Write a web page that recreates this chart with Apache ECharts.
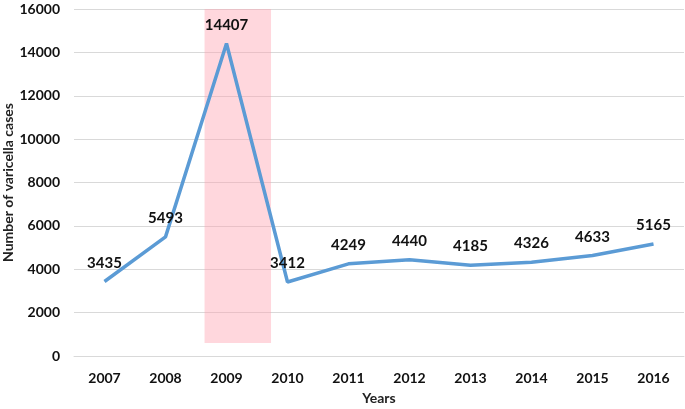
<!DOCTYPE html>
<html><head><meta charset="utf-8">
<script src="https://cdn.jsdelivr.net/npm/echarts@6/dist/echarts.min.js"></script>
<style>html,body{margin:0;padding:0;background:#fff}#c{width:685px;height:409px}</style>
</head><body><div id="c"></div>
<script>
var years = ['2007','2008','2009','2010','2011','2012','2013','2014','2015','2016'];
var cases = [3435, 5493, 14407, 3412, 4249, 4440, 4185, 4326, 4633, 5165];
var highlightX = [1.64, 2.73];
var highlightY = [600, 16000];
var font = 'Lato';
var chart = echarts.init(document.getElementById('c'));
chart.setOption({
  animation: false,
  grid: {left: 74, right: 1, top: 9, bottom: 53, containLabel: false, outerBoundsMode: 'none'},
  xAxis: [{
    type: 'category', data: years, boundaryGap: true,
    name: 'Years', nameLocation: 'middle', nameGap: 35, nameMoveOverlap: false,
    nameTextStyle: {fontFamily: font, fontWeight: 'bold', fontSize: 14, color: '#222'},
    axisLine: {lineStyle: {color: '#d9d9d9', width: 1}},
    axisTick: {show: false},
    axisLabel: {fontFamily: font, fontWeight: 'bold', fontSize: 14, color: '#111', margin: 15}
  }, {
    type: 'value', min: -0.5, max: 9.5, show: false
  }],
  yAxis: {
    type: 'value', min: 0, max: 16000, interval: 2000,
    name: 'Number of varicella cases', nameLocation: 'middle', nameGap: 59, nameMoveOverlap: false,
    nameTextStyle: {fontFamily: font, fontWeight: 'bold', fontSize: 14, color: '#222'},
    axisLine: {show: false}, axisTick: {show: false},
    splitLine: {lineStyle: {color: '#d9d9d9', width: 1}},
    axisLabel: {fontFamily: font, fontWeight: 'bold', fontSize: 14, color: '#111', margin: 14,
      formatter: function (v) { return String(v); }}
  },
  series: [{
    type: 'line', data: cases, symbol: 'circle', symbolSize: 0.5, showSymbol: true, z: 2,
    itemStyle: {color: '#5b9bd5'},
    lineStyle: {color: '#5b9bd5', width: 3.5},
    label: {show: true, position: 'top', distance: 11, fontFamily: font, fontWeight: 'bold', fontSize: 15, color: '#111'}
  }, {
    type: 'line', xAxisIndex: 1, data: [], z: 5,
    markArea: {
      silent: true,
      itemStyle: {color: 'rgba(255,160,175,0.42)'},
      data: [[{coord: [highlightX[0], highlightY[0]]}, {coord: [highlightX[1], highlightY[1]]}]]
    }
  }]
});
</script></body></html>
